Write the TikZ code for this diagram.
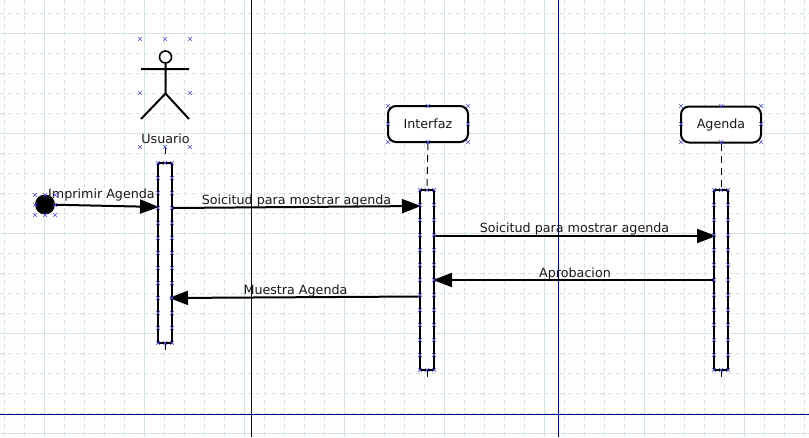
\documentclass[tikz,border=0pt]{standalone}
\usepackage{fontspec}
\setmainfont{DejaVu Sans}
\usetikzlibrary{arrows.meta}
\definecolor{gridc}{HTML}{D7E3E0}
\definecolor{guidec}{HTML}{00008B}
\tikzset{
  minorgrid/.style={gridc,line width=.7pt,dash pattern=on 4pt off 4pt},
  majorgrid/.style={gridc,line width=1pt},
  guide/.style={guidec,line width=1pt},
  connmark/.style={blue!70!white,line width=.6pt},
  lbl/.style={inner sep=0pt,text=black!90,font=\fontsize{12.7pt}{14pt}\selectfont},
  lifehead/.style={lbl,draw=black,line width=2pt,fill=white,rounded corners=8pt,minimum width=80pt,minimum height=36pt},
  lifebar/.style={draw,line width=2pt,fill=white,minimum width=14pt,inner sep=0pt},
  msg/.style={line width=2pt,-{Triangle[length=19pt,width=14pt]}},
  lifeline/.style={line width=1pt,dash pattern=on 7pt off 5pt},
}
\begin{document}
\begin{tikzpicture}[x=1pt,y=-1pt]
\useasboundingbox (0,0) rectangle (809,437);
\fill[white] (0,0) rectangle (809,437);

% grid
\foreach \x in {4.5,24.5,...,804.5} \draw[minorgrid] (\x,0) -- (\x,437);
\foreach \y in {13,33,...,433} \draw[minorgrid] (0,\y) -- (809,\y);
\foreach \x in {44.5,144.5,...,744.5} \draw[majorgrid] (\x,0) -- (\x,437);
\foreach \y in {33,133,...,433} \draw[majorgrid] (0,\y) -- (809,\y);
\draw[guide] (251.5,0) -- (251.5,437);
\draw[guide] (558.5,0) -- (558.5,437);
\draw[guide] (0,414.5) -- (809,414.5);

% actor
\node[draw,circle,line width=1.6pt,minimum size=12pt,inner sep=0pt] (head) at (165.5,57) {};
\coordinate (hip) at (165.5,93.5);
\coordinate (armL) at (141,69);
\coordinate (armR) at (189,69);
\coordinate (legL) at (141,119);
\coordinate (legR) at (189,119);
\draw[line width=2pt] (head) -- (hip) (armL) -- (armR) (legL) -- (hip) -- (legR);
\node[lbl] (usuario) at (165.5,138.5) {Usuario};

% heads and bars
\node[lifehead] (interfaz) at (428,124) {Interfaz};
\node[lifehead] (agenda) at (721,124.5) {Agenda};
\node[lifebar,minimum height=180pt] (barU) at (165,253) {};
\node[lifebar,minimum height=180pt] (barI) at (427,280) {};
\node[lifebar,minimum height=180pt] (barA) at (721,280) {};
\coordinate (actorFoot) at (165,147);
\coordinate (actorEnd) at (165,154);
\coordinate (tailU) at (165,350);
\coordinate (tailI) at (427,377);
\coordinate (tailA) at (721,377);
\draw[line width=1pt] (actorFoot) -- (actorEnd);
\draw[line width=1pt] (barU.south) -- (tailU);
\draw[line width=1pt] (barI.south) -- (tailI);
\draw[line width=1pt] (barA.south) -- (tailA);
\draw[lifeline] (interfaz.south) -- (barI.north);
\draw[lifeline] (agenda.south) -- (barA.north);

% start dot
\node[circle,fill=black,minimum size=20pt,inner sep=0pt] (start) at (45,204.5) {};

% messages
\coordinate (s1) at (159,207);
\coordinate (a1) at (172,208);
\coordinate (b1) at (421,206);
\coordinate (a2) at (434,236);
\coordinate (b2) at (716,236);
\coordinate (a3) at (714,280);
\coordinate (b3) at (433,280);
\coordinate (a4) at (420,296.5);
\coordinate (b4) at (169,298);
\draw[msg] (start) -- (s1);
\draw[msg] (a1) -- (b1);
\draw[msg] (a2) -- (b2);
\draw[msg] (a3) -- (b3);
\draw[msg] (a4) -- (b4);
\node[lbl] (mImprimir) at (101.5,194.5) {Imprimir Agenda};
\node[lbl] (mSol1) at (296.5,200.5) {Soicitud para mostrar agenda};
\node[lbl] (mSol2) at (574.5,228.5) {Soicitud para mostrar agenda};
\node[lbl] (mApr) at (575,273.5) {Aprobacion};
\node[lbl] (mMuestra) at (295.5,290.5) {Muestra Agenda};

% connection marks
\def\mk(#1,#2){\draw[connmark] (#1-2,#2-2) -- (#1+2,#2+2) (#1-2,#2+2) -- (#1+2,#2-2);}
\foreach \x in {140,165,190} {\mk(\x,39) \mk(\x,147)}
\mk(140,93) \mk(190,93)
\foreach \x in {35,45,55} {\mk(\x,195) \mk(\x,215)}
\mk(35,205) \mk(55,205)
\foreach \x/\w in {388/468,681/761} {
  \foreach \y in {106,124,142} {\mk(\x,\y) \mk(\w,\y)}
  \mk(\x/2+\w/2,106) \mk(\x/2+\w/2,142)
}
\foreach \y in {163,178,...,343} {\mk(158,\y) \mk(172,\y)}
\foreach \y in {190,205,...,370} {\mk(420,\y) \mk(434,\y) \mk(714,\y) \mk(728,\y)}
\mk(165,343) \mk(427,370) \mk(721,370)
\mk(165,163) \mk(427,190) \mk(721,190)
\end{tikzpicture}
\end{document}
